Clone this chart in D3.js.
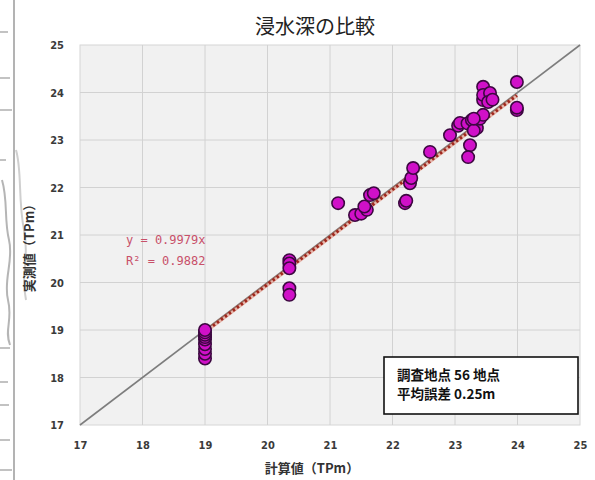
<!DOCTYPE html>
<html>
<head>
<meta charset="utf-8">
<script src="https://cdn.jsdelivr.net/npm/d3@7"></script>
<style>
  html, body { margin: 0; padding: 0; background: #ffffff; }
  svg { display: block; }
</style>
</head>
<body>
<svg id="chart" width="595" height="480"></svg>
<script>
// Observed vs. computed inundation depth (TP m)
const calcValues = [
  19.0, 19.0, 19.0, 19.0, 19.0, 19.0, 19.0, 19.0, 19.0,
  20.35, 20.35, 20.35, 20.35, 20.35,
  21.13, 21.4, 21.5, 21.59, 21.55, 21.64, 21.7,
  22.2, 22.22, 22.28, 22.3, 22.33, 22.6,
  22.92, 23.05, 23.08, 23.2, 23.27, 23.35, 23.3, 23.4, 23.45, 23.24, 23.21, 23.3,
  23.45, 23.45, 23.45, 23.56, 23.53, 23.6, 23.99, 23.99, 23.99
];
const obsValues = [
  18.4, 18.5, 18.6, 18.7, 18.8, 18.85, 18.9, 18.95, 19.0,
  20.47, 20.4, 20.3, 19.88, 19.74,
  21.67, 21.42, 21.45, 21.53, 21.6, 21.84, 21.88,
  21.67, 21.72, 22.09, 22.2, 22.41, 22.75,
  23.1, 23.3, 23.36, 23.35, 23.42, 23.25, 23.2, 23.45, 23.53, 22.89, 22.64, 23.45,
  23.84, 24.12, 23.95, 23.99, 23.8, 23.85, 24.22, 23.63, 23.68
];
const tickValues = [17, 18, 19, 20, 21, 22, 23, 24, 25];
const slope = 0.9979;
const trendRange = [19.0, 23.99];
const equationLines = ["y = 0.9979x", "R\u00b2 = 0.9882"];
const noteLines = ["調査地点 56 地点", "平均誤差 0.25m"];
const titleText = "浸水深の比較";
const xLabel = "計算値（TPm）";
const yLabel = "実測値（TPm）";

const svg = d3.select("#chart");
const x = d3.scaleLinear().domain([17, 25]).range([80, 580]);
const y = d3.scaleLinear().domain([17, 25]).range([425, 45]);

// scanned page edge on the left
const edge = svg.append("g").attr("stroke", "#9a9a9a").attr("fill", "none");
edge.append("line").attr("x1", 14).attr("x2", 14).attr("y1", 0).attr("y2", 480).attr("stroke-width", 1.5);
[[0, 32, 8], [0, 78, 10], [0, 110, 12], [0, 160, 6], [0, 348, 10], [0, 382, 8], [0, 405, 9], [0, 440, 10], [0, 470, 12]]
  .forEach(([x0, yy, w]) => edge.append("line").attr("x1", x0).attr("x2", x0 + w).attr("y1", yy).attr("y2", yy).attr("stroke-width", 1.2));
edge.append("path").attr("d", "M2,180 C8,200 4,220 9,240 S3,280 8,300 S4,330 10,345").attr("stroke", "#b5b5b5").attr("stroke-width", 2);
edge.append("path").attr("d", "M16,150 C22,170 18,200 24,230 S20,270 26,300").attr("stroke", "#cfcfcf").attr("stroke-width", 2);

// plot area
svg.append("rect")
  .attr("x", x(17)).attr("y", y(25))
  .attr("width", x(25) - x(17)).attr("height", y(17) - y(25))
  .attr("fill", "#f1f1f1").attr("stroke", "#d6d6d6");

// grid
const grid = svg.append("g").attr("stroke", "#d2d2d2").attr("stroke-width", 1);
tickValues.slice(1, -1).forEach(v => {
  grid.append("line").attr("x1", x(v)).attr("x2", x(v)).attr("y1", y(17)).attr("y2", y(25));
  grid.append("line").attr("x1", x(17)).attr("x2", x(25)).attr("y1", y(v)).attr("y2", y(v));
});

// axes (tick labels only)
const xAxis = svg.append("g").attr("transform", `translate(0,${y(17) + 12})`)
  .call(d3.axisBottom(x).tickValues(tickValues).tickSize(0).tickPadding(4));
const yAxis = svg.append("g").attr("transform", `translate(${x(17) - 14},0)`)
  .call(d3.axisLeft(y).tickValues(tickValues).tickSize(0).tickPadding(2));
[xAxis, yAxis].forEach(g => {
  g.select(".domain").remove();
  g.selectAll("text")
    .attr("font-family", "'DejaVu Sans Condensed', 'DejaVu Sans', sans-serif")
    .attr("font-size", 11).attr("font-weight", "bold").attr("fill", "#3a3a3a");
});

// 1:1 line
svg.append("line")
  .attr("x1", x(17)).attr("y1", y(17)).attr("x2", x(25)).attr("y2", y(25))
  .attr("stroke", "#7d7d7d").attr("stroke-width", 1.6);

// regression trend line y = 0.9979x
svg.append("line")
  .attr("x1", x(trendRange[0])).attr("y1", y(trendRange[0] * slope))
  .attr("x2", x(trendRange[1])).attr("y2", y(trendRange[1] * slope))
  .attr("stroke", "#d24a2a").attr("stroke-width", 4).attr("stroke-opacity", 0.35);
svg.append("line")
  .attr("x1", x(trendRange[0])).attr("y1", y(trendRange[0] * slope))
  .attr("x2", x(trendRange[1])).attr("y2", y(trendRange[1] * slope))
  .attr("stroke", "#a0281e").attr("stroke-width", 3).attr("stroke-dasharray", "2.5,2.5");

// points
const pts = calcValues.map((c, i) => ({ c, o: obsValues[i] }));
svg.append("g").selectAll("circle").data(pts).join("circle")
  .attr("cx", d => x(d.c)).attr("cy", d => y(d.o)).attr("r", 6.2)
  .attr("fill", "#d010c8").attr("stroke", "#3c0840").attr("stroke-width", 1.6);

// regression equation
svg.append("g").selectAll("text").data(equationLines).join("text")
  .attr("x", 126).attr("y", (d, i) => 244 + i * 21)
  .attr("font-family", "'DejaVu Sans Mono', monospace").attr("font-size", 12)
  .attr("fill", "#c8506a").text(d => d);

// title
svg.append("text").attr("x", 315).attr("y", 34).attr("text-anchor", "middle")
  .attr("font-family", "'Noto Sans CJK JP', sans-serif").attr("font-size", 20)
  .attr("fill", "#222").text(titleText);

// axis titles
svg.append("text").attr("x", 312).attr("y", 473).attr("text-anchor", "middle")
  .attr("font-family", "'Noto Sans CJK JP', sans-serif").attr("font-size", 13)
  .attr("font-weight", "bold").attr("fill", "#333").text(xLabel);
svg.append("text").attr("transform", "translate(34,245) rotate(-90)").attr("text-anchor", "middle")
  .attr("font-family", "'Noto Sans CJK JP', sans-serif").attr("font-size", 13)
  .attr("font-weight", "bold").attr("fill", "#333").text(yLabel);

// survey note box
svg.append("rect").attr("x", 384).attr("y", 357).attr("width", 194).attr("height", 57)
  .attr("fill", "#ffffff").attr("stroke", "#111").attr("stroke-width", 1.6);
svg.append("g").selectAll("text").data(noteLines).join("text")
  .attr("x", 397).attr("y", (d, i) => 380 + i * 19)
  .attr("font-family", "'Noto Sans CJK JP', sans-serif").attr("font-size", 13.5)
  .attr("font-weight", "bold").attr("fill", "#111").text(d => d);
</script>
</body>
</html>
